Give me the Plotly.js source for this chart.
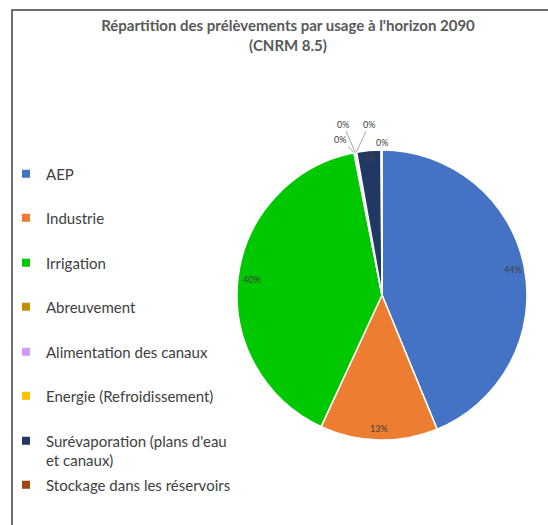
<!DOCTYPE html>
<html>
<head>
<meta charset="utf-8">
<script src="https://cdn.plot.ly/plotly-3.0.1.min.js"></script>
<style>html,body{margin:0;padding:0;background:#fff;}#chart{width:548px;height:525px;}</style>
</head>
<body>
<div id="chart"></div>
<script>
// ---- data ----
const categories = ['AEP', 'Industrie', 'Irrigation', 'Abreuvement', 'Alimentation des canaux',
  'Energie (Refroidissement)', "Surévaporation (plans d'eau et canaux)", 'Stockage dans les réservoirs'];
const legendLabels = ['AEP', 'Industrie', 'Irrigation', 'Abreuvement', 'Alimentation des canaux',
  'Energie (Refroidissement)', "Surévaporation (plans d'eau<br>et canaux)", 'Stockage dans les réservoirs'];
const values = [43.8, 13.1, 40.0, 0.1, 0.1, 0.1, 2.7, 0.1];
const colors = ['#4472C4', '#ED7D31', '#00C800', '#BF9000', '#CC99FF', '#FFC000', '#203864', '#9E480E'];
const titleText = "Répartition des prélèvements par usage à l'horizon 2090<br>(CNRM 8.5)";

// ---- layout constants (px) ----
const W = 548, H = 525;
const cx = 382, cy = 295, R = 145;
const FONT = 'Lato, "Open Sans", sans-serif';
const legendY = [174, 218, 263, 307, 352, 396, 450.5, 485];
// label placement style: inside fraction, or leader offsets
const labelStyle = [
  {f: 0.92}, {f: 0.92}, {f: 0.9},
  {ax: -14, ay: -13}, {ax: -12, ay: -28}, {ax: 13, ay: -28},
  {f: 0.95}, {shift: 8}
];

const total = values.reduce((a, b) => a + b, 0);
const px2x = v => v / W, px2y = v => 1 - v / H;

const traces = [{
  type: 'pie',
  labels: categories,
  values: values,
  sort: false,
  direction: 'clockwise',
  rotation: 0,
  marker: {colors: colors, line: {color: '#ffffff', width: 1.5}},
  textinfo: 'none',
  hoverinfo: 'label+percent',
  showlegend: false,
  domain: {x: [px2x(cx - R), px2x(cx + R)], y: [px2y(cy + R), px2y(cy - R)]}
}];

// legend entries
const layoutLegends = {};
categories.forEach((c, i) => {
  const key = i === 0 ? 'legend' : 'legend' + (i + 1);
  traces.push({
    type: 'scatter', mode: 'markers', x: [null], y: [null],
    name: legendLabels[i], legend: key,
    marker: {symbol: 'square', size: 8, color: colors[i]},
    hoverinfo: 'skip', showlegend: true
  });
  layoutLegends[key] = {
    x: px2x(6), xanchor: 'left', y: px2y(legendY[i]), yanchor: 'middle',
    bgcolor: 'rgba(0,0,0,0)', valign: 'top', itemsizing: 'trace',
    font: {family: FONT, size: 15, color: '#404040'}
  };
});

// percentage labels computed from data
const annotations = [];
let cum = 0;
values.forEach((v, i) => {
  const mid = (cum + v / 2) / total * 2 * Math.PI;
  cum += v;
  const txt = Math.round(v / total * 100) + '%';
  const s = labelStyle[i];
  const base = {text: txt, xref: 'paper', yref: 'paper', xanchor: 'center', yanchor: 'middle',
    font: {family: FONT, size: 9, color: '#404040'}};
  if (s.f !== undefined) {
    annotations.push(Object.assign(base, {
      x: px2x(cx + R * s.f * Math.sin(mid)), y: px2y(cy - R * s.f * Math.cos(mid)),
      showarrow: false}));
  } else if (s.shift !== undefined) {
    annotations.push(Object.assign(base, {
      x: px2x(cx + R * Math.sin(mid)), y: px2y(cy - R * Math.cos(mid)),
      showarrow: false, yshift: s.shift}));
  } else {
    annotations.push(Object.assign(base, {
      x: px2x(cx + R * Math.sin(mid)), y: px2y(cy - R * Math.cos(mid)),
      showarrow: true, arrowhead: 0, arrowwidth: 1, arrowcolor: '#a6a6a6',
      ax: s.ax, ay: s.ay, standoff: 0, startstandoff: 0}));
  }
});

const layout = Object.assign({
  width: W, height: H,
  margin: {l: 0, r: 0, t: 0, b: 0},
  paper_bgcolor: '#ffffff', plot_bgcolor: '#ffffff',
  title: {text: titleText, x: px2x(288), xanchor: 'center', y: px2y(31), yanchor: 'top',
    font: {family: FONT, size: 15, color: '#595959', weight: 'bold'}},
  xaxis: {visible: false}, yaxis: {visible: false},
  annotations: annotations,
  shapes: [{type: 'path', xref: 'paper', yref: 'paper',
    path: `M ${px2x(12)} ${px2y(525)} L ${px2x(12)} ${px2y(10)} L ${px2x(548)} ${px2y(10)}`,
    line: {color: '#404040', width: 1.5}}]
}, layoutLegends);

Plotly.newPlot('chart', traces, layout, {displayModeBar: false, staticPlot: true});
</script>
</body>
</html>
